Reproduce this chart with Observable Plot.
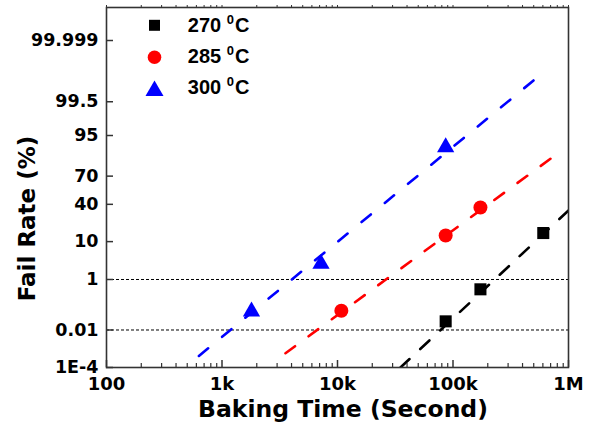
<!DOCTYPE html>
<html>
<head>
<meta charset="utf-8">
<script src="https://cdn.jsdelivr.net/npm/d3@7"></script>
<script src="https://cdn.jsdelivr.net/npm/@observablehq/plot@0.6"></script>
<style>
  html, body { margin: 0; padding: 0; background: #fff; }
  #chart { width: 592px; height: 427px; }
</style>
</head>
<body>
<div id="chart"></div>
<script>
// ---------- data ----------
const seriesNames = ["270 ⁰C", "285 ⁰C", "300 ⁰C"];
const seriesColors = ["#000000", "#ff0000", "#0000ff"];
const seriesSymbols = ["square", "circle", "triangle"];
const seriesR = [6.8, 7, 6.4];
const legendR = [6.2, 6.8, 6.7];

// baking time (s) and fail rate (%) for each temperature
const time270 = [86400, 172800, 604800];
const fail270 = [0.025, 0.47, 14.8];
const time285 = [10800, 86400, 172800];
const fail285 = [0.072, 13.3, 36.7];
const time300 = [1800, 7200, 86400];
const fail300 = [0.067, 2.9, 90.7];

// fitted (dashed) lines: [upper end, lower end] in time (s) and fail rate (%)
const fitTime270 = [1000000, 35100];
const fitFail270 = [33.6, 0.0001];
const fitTime285 = [698000, 3546];
const fitFail285 = [84.2, 0.000653];
const fitTime300 = [497800, 622];
const fitFail300 = [99.9216, 0.000429];
const fitDash = ["12.5,14.7", "12,16.8", "12,18.1"];

// axes
const xMajorTicks = [100, 1000, 10000, 100000, 1000000];
const xTickLabels = ["100", "1k", "10k", "100k", "1M"];
const yTickPct = [0.0001, 0.01, 1, 10, 40, 70, 95, 99.5, 99.999];
const yTickLabels = ["1E-4", "0.01", "1", "10", "40", "70", "95", "99.5", "99.999"];
const yDomainPct = [0.0001, 99.99998861];
const refLinesPct = [1, 0.01];

// ---------- probit (normal probability) transform ----------
function probit(p) {
  const a = [-3.969683028665376e+01, 2.209460984245205e+02, -2.759285104469687e+02, 1.383577518672690e+02, -3.066479806614716e+01, 2.506628277459239e+00];
  const b = [-5.447609879822406e+01, 1.615858368580409e+02, -1.556989798598866e+02, 6.680131188771972e+01, -1.328068155288572e+01];
  const c = [-7.784894002430293e-03, -3.223964580411365e-01, -2.400758277161838e+00, -2.549732539343734e+00, 4.374664141464968e+00, 2.938163982698783e+00];
  const d = [7.784695709041462e-03, 3.224671290700398e-01, 2.445134137142996e+00, 3.754408661907416e+00];
  const pl = 0.02425, ph = 1 - pl;
  let q, r;
  if (p < pl) {
    q = Math.sqrt(-2 * Math.log(p));
    return (((((c[0]*q+c[1])*q+c[2])*q+c[3])*q+c[4])*q+c[5]) / ((((d[0]*q+d[1])*q+d[2])*q+d[3])*q+1);
  }
  if (p > ph) {
    q = Math.sqrt(-2 * Math.log(1 - p));
    return -(((((c[0]*q+c[1])*q+c[2])*q+c[3])*q+c[4])*q+c[5]) / ((((d[0]*q+d[1])*q+d[2])*q+d[3])*q+1);
  }
  q = p - 0.5; r = q * q;
  return (((((a[0]*r+a[1])*r+a[2])*r+a[3])*r+a[4])*r+a[5])*q / (((((b[0]*r+b[1])*r+b[2])*r+b[3])*r+b[4])*r+1);
}
const Z = pct => probit(pct / 100);

// ---------- build tables ----------
const pointSets = [[time270, fail270], [time285, fail285], [time300, fail300]]
  .map(([t, f]) => t.map((ti, i) => ({t: ti, z: Z(f[i])})));
const fitSets = [[fitTime270, fitFail270], [fitTime285, fitFail285], [fitTime300, fitFail300]]
  .map(([t, f]) => t.map((ti, i) => ({t: ti, z: Z(f[i])})));

const xMinorTicks = [];
for (let e = 100; e < 1e6; e *= 10) for (let k = 2; k <= 9; k++) xMinorTicks.push(e * k);
const xAllTicks = xMajorTicks.concat(xMinorTicks);
const yTickZ = yTickPct.map(Z);
const yLabelOf = new Map(yTickZ.map((z, i) => [z, yTickLabels[i]]));
const xLabelOf = new Map(xMajorTicks.map((v, i) => [v, xTickLabels[i]]));

const W = 592, H = 427;
const mL = 106, mR = 24, mT = 7, mB = 60;
const frameW = W - mL - mR, frameH = H - mT - mB;
const axisColor = "#333";

const marks = [];
// reference dotted lines
marks.push(Plot.ruleY(refLinesPct.map(Z), {y: d => d, stroke: "#000", strokeWidth: 1, strokeDasharray: "3,2"}));
// fitted dashed lines (drawn from the upper end downwards)
fitSets.forEach((fs, i) => marks.push(Plot.line(fs, {x: "t", y: "z", stroke: seriesColors[i], strokeWidth: 2.6, strokeDasharray: fitDash[i], clip: true})));
// points
pointSets.forEach((ps, i) => marks.push(Plot.dot(ps, {x: "t", y: "z", symbol: seriesSymbols[i], fill: seriesColors[i], stroke: "none", r: seriesR[i]})));
// inward ticks
marks.push(Plot.tickX(xMajorTicks, {x: d => d, stroke: axisColor, strokeWidth: 1.5, insetTop: frameH - 7}));
marks.push(Plot.tickX(xMinorTicks, {x: d => d, stroke: axisColor, strokeWidth: 1.2, insetTop: frameH - 4}));
marks.push(Plot.tickY(yTickZ, {y: d => d, stroke: axisColor, strokeWidth: 1.5, insetRight: frameW - 7}));
// top mirrored ticks
marks.push(Plot.axisX({anchor: "top", ticks: xAllTicks, tickSize: 3, tickFormat: () => "", label: null, stroke: axisColor}));
// tick labels
marks.push(Plot.axisX({anchor: "bottom", ticks: xMajorTicks, tickSize: 0, tickPadding: 9.5, tickFormat: d => xLabelOf.get(d), label: null, fontSize: 18, fill: "#000"}));
marks.push(Plot.axisY({anchor: "left", ticks: yTickZ, tickSize: 0, tickPadding: 8, tickFormat: d => yLabelOf.get(d), label: null, fontSize: 17.5, fill: "#000"}));
// frame
marks.push(Plot.frame({stroke: axisColor, strokeWidth: 1.6}));
// axis titles
marks.push(Plot.text(["Baking Time (Second)"], {frameAnchor: "bottom", dx: 5.5, dy: 41.5, text: d => d, fontSize: 23.5, lineAnchor: "middle", textAnchor: "middle", fill: "#000"}));
marks.push(Plot.text(["Fail Rate (%)"], {frameAnchor: "left", dx: -78.5, dy: 31, rotate: -90, text: d => d, fontSize: 23, lineAnchor: "middle", textAnchor: "middle", fill: "#000"}));
// legend
const legendSymDy = [17.8, 49.7, 83.4];
const legendTextDy = [18.5, 48.8, 79.8];
seriesNames.forEach((name, i) => {
  marks.push(Plot.dot([name], {frameAnchor: "top-left", dx: 48, dy: legendSymDy[i], symbol: seriesSymbols[i], fill: seriesColors[i], stroke: "none", r: legendR[i]}));
  marks.push(Plot.text([name], {frameAnchor: "top-left", dx: 81.3, dy: legendTextDy[i], text: d => d, fontSize: 20, fontFamily: "Liberation Sans, Arial, sans-serif", textAnchor: "start", lineAnchor: "middle", fill: "#000"}));
});

const chart = Plot.plot({
  width: W, height: H,
  marginLeft: mL, marginRight: mR, marginTop: mT, marginBottom: mB,
  style: {fontFamily: "DejaVu Sans, sans-serif", fontWeight: "bold", background: "#fff", color: "#000", overflow: "visible"},
  x: {type: "log", domain: [100, 1e6], label: null},
  y: {type: "linear", domain: yDomainPct.map(Z), label: null},
  marks
});
document.getElementById("chart").appendChild(chart);

// superscript degree "0" in legend labels
d3.select(chart).selectAll("text").each(function () {
  const s = this.textContent;
  const m = s.match(/^(\d+) ⁰C$/);
  if (m) {
    const el = d3.select(this);
    el.text(null);
    el.append("tspan").text(m[1] + " ");
    el.append("tspan").attr("font-size", 13).attr("dy", -8).text("0");
    el.append("tspan").attr("dy", 8).attr("dx", 1).text("C");
  }
});
</script>
</body>
</html>
